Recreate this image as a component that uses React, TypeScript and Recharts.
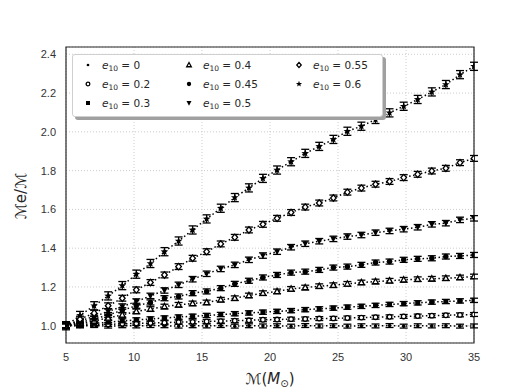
import { CartesianGrid, ErrorBar, Line, LineChart, ReferenceArea, XAxis, YAxis } from "recharts"

// chirp mass samples (x), one row per point
const masses = [
  5.0, 6.03, 7.07, 8.1, 9.14, 10.17, 11.21, 12.24, 13.28, 14.31, 15.34, 16.38, 17.41, 18.45, 19.48,
  20.52, 21.55, 22.59, 23.62, 24.66, 25.69, 26.72, 27.76, 28.79, 29.83, 30.86, 31.9, 32.93, 33.97, 35.0,
]

const ratioE0 = [
  1.0, 0.999, 1.001, 0.998, 1.0, 0.999, 1.001, 1.0, 0.998, 1.0, 0.999, 1.001, 0.998, 1.0, 0.999,
  1.0, 0.998, 1.001, 0.999, 1.0, 0.998, 1.0, 0.999, 1.001, 0.998, 1.0, 0.999, 1.0, 0.998, 0.999,
]
const ratioE02 = [
  1.0, 1.002, 1.005, 1.007, 1.01, 1.012, 1.014, 1.016, 1.019, 1.02, 1.022, 1.024, 1.026, 1.028, 1.031,
  1.032, 1.034, 1.035, 1.037, 1.038, 1.04, 1.042, 1.044, 1.046, 1.048, 1.05, 1.052, 1.054, 1.056, 1.058,
]
const ratioE03 = [
  1.0, 1.006, 1.012, 1.018, 1.025, 1.03, 1.035, 1.04, 1.045, 1.049, 1.053, 1.058, 1.062, 1.066, 1.07,
  1.074, 1.078, 1.083, 1.087, 1.091, 1.096, 1.1, 1.105, 1.11, 1.114, 1.118, 1.122, 1.125, 1.128, 1.131,
]
const ratioE04 = [
  1.0, 1.012, 1.025, 1.04, 1.056, 1.074, 1.086, 1.099, 1.108, 1.115, 1.12, 1.134, 1.142, 1.156, 1.168,
  1.177, 1.19, 1.197, 1.204, 1.209, 1.216, 1.223, 1.228, 1.232, 1.237, 1.24, 1.242, 1.245, 1.249, 1.254,
]
const ratioE045 = [
  1.0, 1.017, 1.035, 1.055, 1.08, 1.103, 1.12, 1.142, 1.151, 1.168, 1.177, 1.194, 1.216, 1.232, 1.249,
  1.262, 1.274, 1.279, 1.288, 1.3, 1.305, 1.314, 1.326, 1.331, 1.34, 1.345, 1.348, 1.357, 1.36, 1.365,
]
const ratioE05 = [
  1.0, 1.025, 1.048, 1.073, 1.099, 1.125, 1.154, 1.182, 1.211, 1.24, 1.268, 1.293, 1.314, 1.34, 1.362,
  1.382, 1.405, 1.423, 1.436, 1.448, 1.46, 1.468, 1.48, 1.489, 1.498, 1.508, 1.523, 1.529, 1.546, 1.554,
]
const ratioE055 = [
  1.0, 1.034, 1.065, 1.103, 1.142, 1.185, 1.223, 1.262, 1.305, 1.348, 1.382, 1.422, 1.456, 1.494, 1.523,
  1.554, 1.584, 1.612, 1.633, 1.659, 1.689, 1.71, 1.73, 1.744, 1.764, 1.781, 1.798, 1.812, 1.841, 1.863,
]
const ratioE06 = [
  1.0, 1.053, 1.103, 1.154, 1.207, 1.266, 1.321, 1.382, 1.437, 1.494, 1.551, 1.606, 1.661, 1.711, 1.76,
  1.803, 1.846, 1.889, 1.925, 1.961, 2.003, 2.029, 2.064, 2.098, 2.132, 2.167, 2.206, 2.244, 2.295, 2.338,
]

const eccLabels = ["0", "0.2", "0.3", "0.4", "0.45", "0.5", "0.55", "0.6"]
const errSizes = [0.01, 0.01, 0.011, 0.012, 0.013, 0.014, 0.015, 0.021]
const xTicks = [5, 10, 15, 20, 25, 30, 35]
const yTicks = [1.0, 1.2, 1.4, 1.6, 1.8, 2.0, 2.2, 2.4]

const seriesValues = [ratioE0, ratioE02, ratioE03, ratioE04, ratioE045, ratioE05, ratioE055, ratioE06]
const markerKinds = ["dot", "circle", "square", "triUp", "bigDot", "triDown", "diamond", "star"]

const rows = masses.map((m, i) => {
  const row: Record<string, number> = { m }
  seriesValues.forEach((vals, s) => {
    row[`s${s}`] = vals[i]
    row[`err${s}`] = errSizes[s]
  })
  return row
})

const Y_MIN = 0.911
const Y_MAX = 2.4376

function starPoints(cx: number, cy: number, ro: number, ri: number) {
  const pts: string[] = []
  for (let k = 0; k < 10; k++) {
    const r = k % 2 === 0 ? ro : ri
    const a = -Math.PI / 2 + (k * Math.PI) / 5
    pts.push(`${cx + r * Math.cos(a)},${cy + r * Math.sin(a)}`)
  }
  return pts.join(" ")
}

function Marker({ kind, cx, cy, k = 1 }: { kind: string; cx: number; cy: number; k?: number }) {
  switch (kind) {
    case "dot":
      return <circle cx={cx} cy={cy} r={1.7 * k} fill="#000" />
    case "circle":
      return <circle cx={cx} cy={cy} r={2.3 * k} fill="#fff" stroke="#000" strokeWidth={1.3} />
    case "square":
      return <rect x={cx - 2.5 * k} y={cy - 2.5 * k} width={5 * k} height={5 * k} fill="#000" />
    case "triUp":
      return (
        <polygon
          points={`${cx},${cy - 3.1 * k} ${cx + 2.9 * k},${cy + 2.2 * k} ${cx - 2.9 * k},${cy + 2.2 * k}`}
          fill="#fff"
          stroke="#000"
          strokeWidth={1.3}
        />
      )
    case "bigDot":
      return <circle cx={cx} cy={cy} r={2.7 * k} fill="#000" />
    case "triDown":
      return <polygon points={`${cx},${cy + 3.3 * k} ${cx + 3.1 * k},${cy - 2.4 * k} ${cx - 3.1 * k},${cy - 2.4 * k}`} fill="#000" />
    case "diamond":
      return (
        <polygon
          points={`${cx},${cy - 3.2 * k} ${cx + 2.8 * k},${cy} ${cx},${cy + 3.2 * k} ${cx - 2.8 * k},${cy}`}
          fill="#fff"
          stroke="#000"
          strokeWidth={1.3}
        />
      )
    default:
      return <polygon points={starPoints(cx, cy, 4 * k, 1.7 * k)} fill="#000" />
  }
}

const tickStyle = { fill: "#333", fontSize: 11, fontFamily: "'Liberation Sans', Arial, sans-serif" }
const mathFont = "'DejaVu Sans', sans-serif"

// legend columns: 0/0.2/0.3 | 0.4/0.45/0.5 | 0.55/0.6
function ChartLegend() {
  const colX = [15, 116, 226]
  return (
    <div
      style={{
        position: "absolute",
        left: 72,
        top: 54,
        width: 309,
        height: 61,
        background: "#fff",
        border: "1px solid #cfcfcf",
        borderRadius: 3,
        boxShadow: "3px 3px 0 #a0a0a0",
        fontFamily: mathFont,
        fontSize: 10.5,
        color: "#262626",
      }}
    >
      {eccLabels.map((lab, s) => {
        const col = Math.floor(s / 3)
        const row = s % 3
        return (
          <div
            key={lab}
            style={{ position: "absolute", left: colX[col] - 6, top: 2 + row * 19, height: 16, display: "flex", alignItems: "center" }}
          >
            <svg width={12} height={12} style={{ marginRight: 8 }}>
              <Marker kind={markerKinds[s]} cx={6} cy={6} k={0.8} />
            </svg>
            <span style={{ whiteSpace: "nowrap" }}>
              <i>e</i>
              <span style={{ fontSize: 7.5, position: "relative", top: 2 }}>10</span> = {lab}
            </span>
          </div>
        )
      })}
    </div>
  )
}

export default function App() {
  return (
    <div style={{ position: "absolute", left: 0, top: 0, width: 528, height: 392, background: "#fff" }}>
      <LineChart width={528} height={392} data={rows} margin={{ top: 47, right: 54, bottom: 0, left: 0 }}>
        <CartesianGrid stroke="#cccccc" strokeDasharray="1 2" />
        <XAxis
          dataKey="m"
          type="number"
          domain={[5, 35]}
          ticks={xTicks}
          height={49}
          tickLine={false}
          axisLine={false}
          tick={tickStyle}
          tickMargin={4}
          allowDataOverflow
          label={{
            content: () => (
              <text x={270} y={384} textAnchor="middle" fontFamily={mathFont} fontSize={15} fill="#262626">
                ℳ(<tspan fontStyle="italic">M</tspan>
                <tspan fontSize={10} dy={3}>⊙</tspan>
                <tspan dy={-3}>)</tspan>
              </text>
            ),
          }}
        />
        <YAxis
          type="number"
          domain={[Y_MIN, Y_MAX]}
          ticks={yTicks}
          width={66}
          tickLine={false}
          axisLine={false}
          tick={tickStyle}
          tickMargin={4}
          tickFormatter={(v: number) => v.toFixed(1)}
          allowDataOverflow
          label={{
            content: () => (
              <text
                x={26}
                y={196}
                textAnchor="middle"
                fontFamily={mathFont}
                fontSize={15}
                fill="#262626"
                transform="rotate(-90 26 196)"
              >
                ℳe/ℳ
              </text>
            ),
          }}
        />
        {seriesValues.map((_, s) => (
          <Line
            key={s}
            dataKey={`s${s}`}
            type="linear"
            stroke="#000"
            strokeWidth={1.5}
            strokeDasharray="1.5 2.5"
            isAnimationActive={false}
            dot={(p: any) => <Marker key={`${s}-${p.index}`} kind={markerKinds[s]} cx={p.cx} cy={p.cy} />}
            activeDot={false}
          >
            <ErrorBar dataKey={`err${s}`} direction="y" width={4} stroke="#000" strokeWidth={1.3} />
          </Line>
        ))}
        <ReferenceArea x1={5} x2={35} y1={Y_MIN} y2={Y_MAX} fill="none" stroke="#262626" strokeWidth={1.2} fillOpacity={0} />
      </LineChart>
      <ChartLegend />
    </div>
  )
}
